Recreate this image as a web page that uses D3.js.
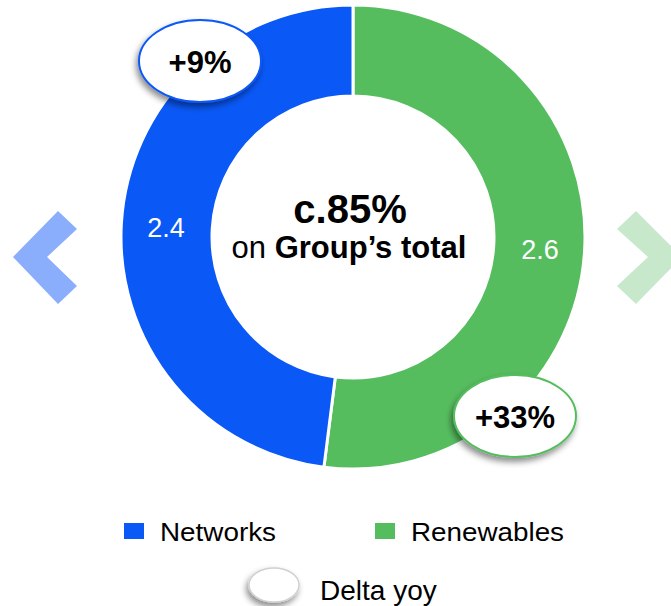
<!DOCTYPE html>
<html>
<head>
<meta charset="utf-8">
<script src="https://cdn.jsdelivr.net/npm/d3@7"></script>
<style>
  body { margin: 0; background: #fff; }
  svg { display: block; font-family: "Liberation Sans", Arial, sans-serif; }
</style>
</head>
<body>
<div id="chart"></div>
<script>
// chart values
var categories = ["Renewables", "Networks"];
var values = [2.6, 2.4];
var deltas = ["+33%", "+9%"];
var colors = ["#56bd5f", "#0a58f6"];
var legendOrder = ["Networks", "Renewables"];

var w = 671, h = 606;
var cx = 353, cy = 237;
var outerR = 232, innerR = 141;

var svg = d3.select("#chart").append("svg")
  .attr("width", w)
  .attr("height", h);

var defs = svg.append("defs");
var f = defs.append("filter").attr("id", "shadow")
  .attr("x", "-30%").attr("y", "-30%").attr("width", "160%").attr("height", "170%");
f.append("feDropShadow").attr("dx", -2).attr("dy", 4).attr("stdDeviation", 3)
  .attr("flood-color", "#000").attr("flood-opacity", 0.45);

var colorScale = d3.scaleOrdinal().domain(categories).range(colors);

// chevrons (navigation arrows)
svg.append("polygon")
  .attr("points", "13,257 58,211 77,229 47,257 77,286 58,304")
  .attr("fill", "#8aaefc");
svg.append("polygon")
  .attr("points", "617,229 636,211 682,257 636,304 617,286 648,257")
  .attr("fill", "#c8e8cb");

var data = categories.map(function(c, i) { return { name: c, value: values[i], delta: deltas[i] }; });

var pie = d3.pie().sort(null).value(function(d) { return d.value; });
var arc = d3.arc().innerRadius(innerR).outerRadius(outerR);
var arcs = pie(data);

var g = svg.append("g").attr("transform", "translate(" + cx + "," + cy + ")");

g.selectAll("path.slice")
  .data(arcs)
  .enter()
  .append("path")
  .attr("class", "slice")
  .attr("d", arc)
  .attr("fill", function(d) { return colorScale(d.data.name); })
  .attr("stroke", "#fff")
  .attr("stroke-width", 3);

// values inside ring
var labelPos = { "Renewables": [187, 22], "Networks": [-187, 0] };
g.selectAll("text.val")
  .data(arcs)
  .enter()
  .append("text")
  .attr("class", "val")
  .text(function(d) { return d.data.value.toFixed(1); })
  .attr("x", function(d) { return labelPos[d.data.name][0]; })
  .attr("y", function(d) { return labelPos[d.data.name][1]; })
  .attr("text-anchor", "middle")
  .attr("font-size", "27px")
  .attr("fill", "#fff");

// center text
svg.append("text")
  .attr("x", 350).attr("y", 223)
  .attr("text-anchor", "middle")
  .attr("font-size", "40px")
  .attr("font-weight", "bold")
  .attr("fill", "#000")
  .text("c.85%");
var sub = svg.append("text")
  .attr("x", 349).attr("y", 258)
  .attr("text-anchor", "middle")
  .attr("font-size", "31px")
  .attr("fill", "#000");
sub.append("tspan").text("on ");
sub.append("tspan").attr("font-weight", "bold").text("Group\u2019s total");

// delta bubbles
var bubblePos = { "Networks": [200, 61], "Renewables": [515, 416] };
var bub = svg.selectAll("g.bubble")
  .data(data)
  .enter()
  .append("g")
  .attr("class", "bubble")
  .attr("transform", function(d) { return "translate(" + bubblePos[d.name][0] + "," + bubblePos[d.name][1] + ")"; });
bub.append("ellipse")
  .attr("rx", 61).attr("ry", 41)
  .attr("fill", "#fff")
  .attr("stroke", function(d) { return colorScale(d.name); })
  .attr("stroke-width", 2)
  .attr("filter", "url(#shadow)");
bub.append("text")
  .attr("y", 12)
  .attr("text-anchor", "middle")
  .attr("font-size", "31px")
  .attr("font-weight", "bold")
  .attr("fill", "#000")
  .text(function(d) { return d.delta; });

// legend
var legendX = d3.scaleOrdinal().domain(legendOrder).range([124, 375]);
var legendW = d3.scaleOrdinal().domain(legendOrder).range([116, 153]);
var leg = svg.selectAll("g.leg")
  .data(legendOrder)
  .enter()
  .append("g")
  .attr("class", "leg")
  .attr("transform", function(d) { return "translate(" + legendX(d) + ",523)"; });
leg.append("rect")
  .attr("width", 20).attr("height", 16)
  .attr("fill", function(d) { return colorScale(d); });
leg.append("text")
  .attr("x", 36).attr("y", 18)
  .attr("font-size", "26px")
  .attr("textLength", function(d) { return legendW(d); })
  .attr("lengthAdjust", "spacingAndGlyphs")
  .attr("fill", "#000")
  .text(function(d) { return d; });

svg.append("ellipse")
  .attr("cx", 274).attr("cy", 585)
  .attr("rx", 25).attr("ry", 17)
  .attr("fill", "#fff")
  .attr("stroke", "#d0d0d0")
  .attr("stroke-width", 1.5)
  .attr("filter", "url(#shadow)");
svg.append("text")
  .attr("x", 320).attr("y", 600)
  .attr("font-size", "28px")
  .attr("fill", "#000")
  .text("Delta yoy");
</script>
</body>
</html>
